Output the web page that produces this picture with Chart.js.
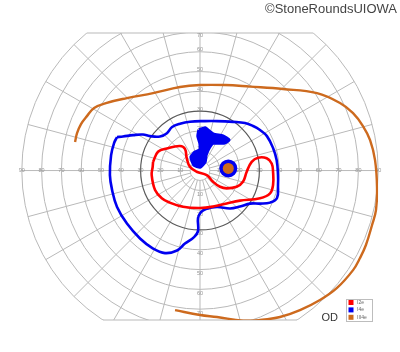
<!DOCTYPE html>
<html><head><meta charset="utf-8">
<script src="https://cdn.jsdelivr.net/npm/chart.js@4.4.1/dist/chart.umd.min.js"></script>
<style>html,body{margin:0;padding:0;background:#fff}#wrap{position:relative;width:400px;height:352px}</style>
</head><body><div id="wrap"><canvas id="c"></canvas></div>
<script>
// Isopter names and colours (legend)
const isopterLabels = ['I2e', 'I4e', 'III4e'];
const isopterColors = ['#ff0000', '#0000f0', '#cd6a1e'];

// Isopter traces, [x, y] in degrees of visual field (x: temporal/nasal, y: up/down)
const isopterI2e = [[-23.7,4.4],[-21.2,9.5],[-16.8,11.2],[-10.1,12.4],[-7.6,10.9],[-6.7,6.3],[-5.1,1.9],[-1.7,-0.6],[3.4,-2.3],[6.6,-5.7],[10.1,-8.2],[13.5,-9.0],[18.5,-8.2],[21.7,-5.7],[23.6,-0.6],[26.1,4.4],[29.3,6.5],[33.7,6.2],[36.2,3.6],[36.9,-0.6],[36.9,-7.3],[35.4,-11.5],[30.3,-14.0],[20.2,-15.2],[13.5,-16.6],[6.6,-18.2],[0,-18.9],[-8.6,-18.3],[-15.2,-16.2],[-19.3,-14.0],[-22.7,-9.8],[-24.4,-2.3],[-23.9,1.9],[-23.7,4.4]];
const isopterI4e = [[-41.9,16.9],[-38.9,17.2],[-33.8,17.9],[-28.8,18.2],[-25.3,17.4],[-20.2,17.2],[-16.7,18.9],[-14.1,22.0],[-10.1,23.7],[-5.1,24.7],[2.5,25.0],[8.6,25.0],[16.7,24.6],[22.7,24.0],[26.8,22.5],[30.3,20.5],[33.8,17.4],[36.9,11.4],[38.7,5.3],[39.4,-2.3],[39.4,-7.3],[38.9,-13.9],[35.4,-16.2],[30.3,-16.7],[25.3,-16.7],[20.2,-18.2],[15.2,-19.2],[8.6,-18.4],[3.0,-19.4],[0.5,-21.0],[-1.0,-24.0],[-1.0,-30.6],[-3.0,-33.6],[-7.6,-36.9],[-11.6,-40.4],[-17.7,-41.7],[-23.7,-39.4],[-30.3,-34.3],[-36.9,-26.8],[-41.9,-18.4],[-44.4,-9.8],[-45.5,-2.3],[-44.9,7.8],[-43.4,13.9],[-41.9,16.9]];
const isopterIII4e = [[-63.1,14.4],[-62.1,18.9],[-60.1,23.5],[-57.1,27.5],[-53.5,31.6],[-47.5,34.1],[-36.9,36.6],[-23.7,39.1],[-10.1,42.2],[0,43.2],[12.6,43.2],[25.3,42.4],[41.9,41.2],[59.1,39.1],[70.7,34.1],[77.3,29.0],[82.3,22.5],[85.9,15.4],[88.4,5.3],[89.4,-8.3],[88.9,-19.9],[86.9,-27.5],[83.8,-37.6],[80.8,-44.2],[77.3,-50.3],[69.2,-59.3],[60.6,-65.4],[50.5,-70.5],[40.4,-74.0],[30.3,-75.5],[21.7,-75.8],[8.6,-74.0],[0,-73.0],[-12.6,-70.5]];
// I4e scotoma (filled) near fixation
const scotomaI4e = [[-0.5,20.5],[2.5,21.5],[6.6,18.4],[11.6,17.4],[14.6,15.4],[12.1,13.9],[6.6,13.9],[4.5,11.4],[3.0,7.8],[2.5,4.3],[0,1.8],[-3.0,2.8],[-4.5,6.8],[-2.5,9.3],[0,10.4],[0,13.9],[-1.0,17.4],[-0.5,20.5]];
// Blind spot: I4e and III4e
const blindSpot = [[14.3,1.1]];

// Grid description
const ringDegrees = [5, 10, 20, 30, 40, 50, 60, 70, 80, 90];
const meridianDegrees = [0,15,30,45,60,75,90,105,120,135,150,165,180,195,210,225,240,255,270,285,300,315,330,345];
const hAxisTicks = [10, 20, 30, 40, 50, 60, 70, 80, 90];
const vAxisTicksUp = [10, 20, 30, 40, 50, 60, 70];
const vAxisTicksDown = [10, 20, 30, 40, 50, 60, 70];
const eyeLabel = 'OD';
const creditText = '©StoneRoundsUIOWA';

const toPts = arr => arr.map(p => ({x: p[0], y: p[1]}));

const gridPlugin = {
  id: 'perimetryGrid',
  beforeDatasetsDraw(chart) {
    const {ctx, chartArea: a, scales: {x, y}} = chart;
    const cx = x.getPixelForValue(0), cy = y.getPixelForValue(0);
    const pr = d => x.getPixelForValue(d) - cx;
    const R = pr(90);
    ctx.save();
    ctx.beginPath();
    ctx.rect(a.left - 2, a.top, a.right - a.left + 4, a.bottom - a.top);
    ctx.clip();
    ctx.lineWidth = 1;
    ctx.strokeStyle = '#b9b9b9';
    ringDegrees.forEach(r => {
      if (r === 30) return;
      ctx.beginPath(); ctx.arc(cx, cy, pr(r), 0, Math.PI * 2); ctx.stroke();
    });
    meridianDegrees.forEach(t => {
      const th = t * Math.PI / 180;
      ctx.beginPath();
      ctx.moveTo(cx + pr(5) * Math.cos(th), cy - pr(5) * Math.sin(th));
      ctx.lineTo(cx + R * Math.cos(th), cy - R * Math.sin(th));
      ctx.stroke();
    });
    ctx.strokeStyle = '#5a5a5a';
    ctx.lineWidth = 1.2;
    ctx.beginPath(); ctx.arc(cx, cy, pr(30), 0, Math.PI * 2); ctx.stroke();
    ctx.restore();
    // top and bottom chords
    ctx.save();
    ctx.strokeStyle = '#b9b9b9';
    ctx.lineWidth = 1;
    [a.top, a.bottom].forEach(yy => {
      const dy = Math.abs(yy - cy);
      const hw = Math.sqrt(Math.max(0, R * R - dy * dy));
      ctx.beginPath(); ctx.moveTo(cx - hw, yy); ctx.lineTo(cx + hw, yy); ctx.stroke();
    });
    // axis numbers
    ctx.fillStyle = '#959595';
    ctx.font = '5.5px "Liberation Sans", Arial, sans-serif';
    ctx.textAlign = 'center';
    ctx.textBaseline = 'middle';
    hAxisTicks.forEach(v => {
      ctx.fillText(String(v), x.getPixelForValue(-v), cy);
      ctx.fillText(String(v), x.getPixelForValue(v), cy);
    });
    vAxisTicksUp.forEach(v => {
      ctx.fillText(String(v), cx, Math.max(y.getPixelForValue(v) - 2, a.top + 2));
    });
    vAxisTicksDown.forEach(v => {
      ctx.fillText(String(v), cx, y.getPixelForValue(-v) + 4);
    });
    ctx.restore();
  },
  afterDraw(chart) {
    const {ctx} = chart;
    ctx.save();
    // credit
    ctx.fillStyle = '#444';
    ctx.font = '13px "Liberation Sans", Arial, sans-serif';
    ctx.textAlign = 'right';
    ctx.textBaseline = 'alphabetic';
    ctx.fillText(creditText, 397, 12.5);
    // eye label
    ctx.fillStyle = '#333';
    ctx.font = '11px "Liberation Sans", Arial, sans-serif';
    ctx.textAlign = 'left';
    ctx.fillText(eyeLabel, 321.5, 320.5);
    // legend
    ctx.fillStyle = '#fff';
    ctx.fillRect(346, 299, 27, 22.5);
    ctx.strokeStyle = '#bdbdbd';
    ctx.lineWidth = 1;
    ctx.strokeRect(346.5, 299.5, 26, 22);
    ctx.font = '5px "Liberation Sans", Arial, sans-serif';
    ctx.textBaseline = 'middle';
    isopterLabels.forEach((lab, i) => {
      const yy = 302.5 + i * 7.4;
      ctx.fillStyle = isopterColors[i];
      ctx.fillRect(348.5, yy - 2.5, 5, 5);
      ctx.fillStyle = '#666';
      ctx.fillText(lab, 357, yy);
    });
    ctx.restore();
  }
};

new Chart(document.getElementById('c'), {
  type: 'scatter',
  data: {
    datasets: [
      {label: isopterLabels[2] + ' spot', data: toPts(blindSpot), pointRadius: 5.5, backgroundColor: isopterColors[2], borderWidth: 0, order: 0},
      {label: isopterLabels[1] + ' spot', data: toPts(blindSpot), pointRadius: 9, backgroundColor: isopterColors[1], borderWidth: 0, order: 1},
      {label: isopterLabels[1] + ' scotoma', data: toPts(scotomaI4e), showLine: true, tension: 0.15, borderColor: isopterColors[1], backgroundColor: isopterColors[1], borderWidth: 3.5, borderJoinStyle: 'round', fill: 'shape', pointRadius: 0, order: 2},
      {label: isopterLabels[0], data: toPts(isopterI2e), showLine: true, tension: 0.4, borderColor: isopterColors[0], borderWidth: 2.6, pointRadius: 0, fill: false, order: 3},
      {label: isopterLabels[1], data: toPts(isopterI4e), showLine: true, tension: 0.4, borderColor: isopterColors[1], borderWidth: 2.6, pointRadius: 0, fill: false, order: 4},
      {label: isopterLabels[2], data: toPts(isopterIII4e), showLine: true, tension: 0.4, borderColor: isopterColors[2], borderWidth: 2.4, pointRadius: 0, fill: false, order: 5}
    ]
  },
  options: {
    responsive: true,
    maintainAspectRatio: false,
    animation: false,
    events: [],
    layout: {padding: {left: 21.8, right: 21.8, top: 33, bottom: 32}},
    scales: {
      x: {type: 'linear', min: -90, max: 90, display: false},
      y: {type: 'linear', min: -75.5, max: 69.5, display: false}
    },
    plugins: {legend: {display: false}, tooltip: {enabled: false}, title: {display: false}}
  },
  plugins: [gridPlugin]
});
</script></body></html>
